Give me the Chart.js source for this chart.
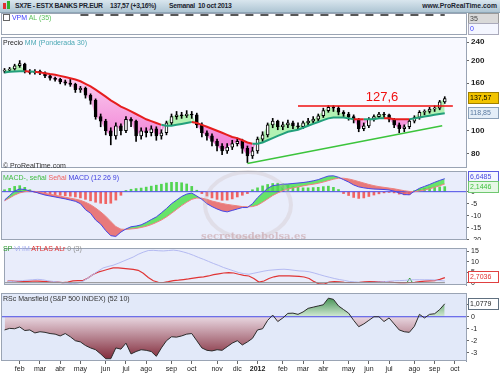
<!DOCTYPE html>
<html>
<head>
<meta charset="utf-8">
<script src="https://cdn.jsdelivr.net/npm/chart.js@4/dist/chart.umd.min.js"></script>
<style>
  body { margin: 0; width: 500px; height: 375px; overflow: hidden; position: relative; background: #fff; font-family: Arial, "Liberation Sans", sans-serif; }
  canvas { position: absolute; left: 0; }
  .lbl { position: absolute; left: 3px; font-size: 7px; line-height: 8px; white-space: nowrap; z-index: 2; }
  #bar { position: absolute; left: 0; top: 0; width: 500px; height: 12px; background: linear-gradient(#d9e6ee, #aec5d3); border-bottom: 1px solid #8ea6b6; font-size: 6.8px; font-weight: bold; line-height: 12px; color: #1c2430; z-index: 2; letter-spacing: -0.3px; }
  #bar span { position: absolute; top: 0; }
  .ico { position: absolute; top: 3px; width: 3px; height: 6px; }
</style>
</head>
<body>
<canvas id="c1" width="500" height="22" style="top:13px"></canvas>
<canvas id="c2" width="500" height="131" style="top:37px"></canvas>
<canvas id="c3" width="500" height="69" style="top:171px"></canvas>
<canvas id="c4" width="500" height="47" style="top:243px"></canvas>
<canvas id="c5" width="500" height="82" style="top:293px"></canvas>

<div id="bar">
  <div class="ico" style="left:3px;background:#e03030"></div>
  <div class="ico" style="left:7px;top:1px;height:8px;background:#30b030"></div>
  <span style="left:15px">SX7E - ESTX BANKS PR.EUR</span>
  <span style="left:110px">137,57 (+3,16%)</span>
  <span style="left:169px">Semanal&nbsp; 10 oct 2013</span>
  <span style="right:3px;letter-spacing:0">www.ProRealTime.com</span>
</div>
<div class="lbl" style="top:14px"><span style="display:inline-block;width:5px;height:5px;border:1px solid #666;vertical-align:-1px"></span> <span style="color:#3c3cff">VPM</span> <span style="color:#5cc05c">AL (35)</span></div>
<div class="lbl" style="top:39px"><span style="color:#222">Precio</span> <span style="color:#4aa8b4">MM (Ponderada 30)</span></div>
<div class="lbl" style="top:162px;color:#333">© ProRealTime.com</div>
<div class="lbl" style="top:174px"><span style="color:#3cbc3c">MACD-, señal</span> <span style="color:#f06060">Señal</span> <span style="color:#4040e0">MACD (12 26 9)</span></div>
<div class="lbl" style="top:245px"><span style="color:#2e9e2e">SP</span> <span style="color:#a8b0f0">VHM</span> <span style="color:#e03030">ATLAS ALr</span> <span style="color:#909090">0 (3)</span></div>
<div class="lbl" style="top:295px;color:#333">RSc Mansfield (S&amp;P 500 INDEX) (52 10)</div>
<div style="position:absolute;left:203px;top:170px;width:82px;height:62px;border:4px solid rgba(205,190,190,0.3);border-radius:50%;z-index:1"></div>
<div style="position:absolute;left:201px;top:230px;font:bold 10px 'DejaVu Serif',serif;color:rgba(200,160,165,0.6);z-index:1">secretosdebolsa.es</div>

<script>
// weekly price data (88 weeks)
const opens = [180,182,184,190,193,180,178,180,177,172,
  168,166,162,160,158,150,152,142,135,115,
  110,100,95,105,100,112,110,95,100,98,
  102,95,98,108,115,117,116,118,117,106,
  98,95,90,86,82,85,88,90,84,78,
  82,92,96,106,110,104,106,108,105,104,
  108,110,112,116,122,126,125,120,118,115,
  112,102,105,112,115,118,117,112,106,102,
  104,110,114,120,121,124,125,133];
const closes = [182,184,190,194,180,178,180,177,172,168,
  166,162,160,158,150,152,142,135,115,110,
  100,95,105,100,112,110,95,100,98,102,
  95,98,108,115,117,116,118,117,106,98,
  95,90,86,82,85,88,90,84,78,82,
  92,96,106,110,104,106,108,105,104,108,
  110,112,116,122,126,125,120,118,115,112,
  102,105,112,115,118,117,112,106,102,104,
  110,114,120,121,124,125,133,137.57];
const highs = [185,187,193,200,195,183,183,182,179,174,
  170,168,165,166,160,155,154,144,137,118,
  112,103,108,107,115,114,111,103,103,105,
  104,101,110,118,121,120,122,121,119,108,
  100,97,92,88,88,91,93,92,86,85,
  94,99,108,113,111,109,111,110,108,110,
  113,115,118,125,128,128,127,122,120,117,
  113,108,114,117,120,120,118,113,108,106,
  112,116,122,123,126,128,135,140];
const lows = [177,179,182,187,177,175,175,174,169,165,
  163,159,157,155,146,146,138,130,112,104,
  96,87,92,96,98,104,90,92,94,95,
  91,92,96,106,112,113,114,113,103,94,
  91,86,82,79,80,83,86,80,73,76,
  80,90,94,103,101,101,103,102,101,102,
  106,108,110,114,120,121,117,115,111,108,
  99,100,103,110,113,114,109,103,98,99,
  102,108,112,117,119,121,123,131];
// MM ponderada 30
const ma = [178,179,179.5,180,180,179.5,179,178,176.5,175,
  174,172,170,168,166,163,159,155,150,145,
  140,135,131,127,124,121,118,115,112,110,
  108,106,105,105,106,107,108,109,108,106,
  104,102,100,98,96,94,93,91,89,88,
  88,89,91,93,95,97,99,100,101,103,
  105,107,109,111,113,114,114,114,113,112,
  112,112,112,112,113,113,113,112,112,112,
  112,113,114,115,116,117,118,118.85];
const trendWeeks = [48, 86.5];
const trendValues = [72.3, 105];
const resistWeeks = [58, 88.6];
const resistLevel = 127.6;

// MACD (12 26 9)
const macd = [-3.5,-1.6,0.3,1.1,0.9,0.3,-0.1,-0.8,-1.4,-1.8,
  -2.2,-2.6,-3.0,-3.5,-4.0,-5.0,-7.5,-9.0,-11.8,-13.5,
  -16.2,-18.3,-18.6,-16.8,-15.5,-14.6,-14.3,-13.8,-12.8,-11.6,
  -10.5,-8.8,-7.0,-5.0,-3.5,-2.0,-1.0,-0.6,-1.8,-3.2,
  -5.0,-6.2,-7.2,-8.0,-8.4,-7.8,-7.2,-6.6,-6.6,-5.0,
  -2.5,-0.5,1.4,2.5,2.8,3.1,3.2,3.4,3.6,3.8,
  4.1,4.5,5.0,5.8,6.5,6.6,6.0,5.0,4.0,2.8,
  2.0,1.6,1.3,1.1,1.0,0.9,0.7,0.2,-0.5,-1.2,
  -1.3,0.2,1.4,2.2,3.0,3.9,4.7,5.4];
const signal = [-3.8,-2.6,-1.4,-0.5,0.0,0.2,0.1,-0.2,-0.7,-1.1,
  -1.5,-1.9,-2.3,-2.7,-3.1,-3.6,-4.4,-5.4,-6.8,-8.4,
  -10.2,-12.4,-14.5,-15.6,-15.7,-15.5,-15.3,-14.9,-14.4,-13.7,
  -12.8,-11.8,-10.5,-9.0,-7.4,-5.8,-4.4,-3.2,-2.6,-2.7,
  -3.2,-3.9,-4.4,-4.9,-5.3,-5.6,-5.9,-6.2,-6.3,-6.2,
  -5.6,-4.4,-3.0,-1.6,-0.5,0.4,1.1,1.6,2.0,2.4,
  2.8,3.1,3.5,4.0,4.6,5.2,5.6,5.6,5.3,4.8,
  4.2,3.6,3.0,2.5,2.1,1.8,1.5,1.2,0.8,0.4,
  0.1,0.0,0.3,0.7,1.2,1.8,2.5,3.2];
const hist = [0.8,1.4,2.2,2.5,1.8,0.8,-0.3,-0.8,-1.0,-1.2,
  -1.4,-1.5,-1.7,-1.9,-2.2,-2.6,-3.2,-3.8,-4.4,-4.8,
  -5.0,-4.8,-3.5,-1.5,0.5,1.0,1.3,1.5,1.9,2.3,
  2.7,3.1,3.6,3.9,3.9,3.7,3.2,2.2,0.6,-0.8,
  -1.8,-2.6,-3.2,-3.6,-3.5,-3.0,-2.2,-1.5,-0.8,0.8,
  1.6,2.4,3.0,3.4,3.5,3.2,2.6,2.0,1.8,1.6,
  1.6,1.7,1.8,2.1,2.3,1.8,0.9,-0.8,-1.6,-2.4,
  -2.8,-2.6,-2.0,-1.4,-0.9,-0.5,-0.3,-0.5,-1.0,-1.3,
  -1.2,0.4,1.0,1.4,1.6,1.8,2.0,2.1];

// SP VHM ATLAS ALr
const vhm = [0.5,0.6,0.8,1.0,1.2,1.4,1.6,1.4,0.9,0.6,
  0.3,0.0,-0.2,-0.5,-0.2,0.7,2.2,3.9,5.5,7.0,
  7.7,8.3,9.2,10.2,11.2,12.2,13.5,14.5,15.3,15.4,
  15.2,15.1,15.3,15.5,15.2,14.6,13.9,13.0,12.0,11.1,
  10.1,9.1,8.2,7.2,6.4,5.6,4.8,4.3,4.0,4.5,
  5.0,5.5,5.9,6.1,6.3,6.4,6.2,5.9,5.6,5.5,
  5.2,4.6,3.9,3.2,2.6,2.0,1.5,1.1,0.6,0.4,
  0.2,0.1,0.1,0.2,0.4,0.5,0.7,0.9,1.0,1.1,
  1.3,1.4,1.4,1.4,1.4,1.3,1.0,0.8];
const atlas = [0.75,0.7,0.6,0.5,0.6,0.7,0.75,0.6,0.5,0.4,
  0.3,0.0,0.3,0.9,1.0,1.0,2.2,3.9,5.0,5.7,
  6.4,7.0,7.0,6.8,6.6,6.3,5.9,4.5,2.5,0.9,
  0.2,0.1,0.5,1.0,1.2,1.5,1.8,2.2,2.5,2.8,
  3.2,3.8,4.2,4.6,4.8,4.6,4.0,3.5,3.2,2.0,
  0.3,0.8,2.0,2.8,3.2,3.3,3.2,3.1,3.0,2.7,
  2.0,0.5,-0.6,-0.7,0.3,0.5,0.4,0.2,0.1,0.1,
  0.2,0.4,0.5,0.5,0.5,0.5,0.4,0.1,0.0,0.0,
  0.1,0.2,0.5,0.75,0.9,1.0,1.6,2.4];
const spSignalWeek = 80;
const spSignalValue = 0.8;

// RSc Mansfield (S&P 500 INDEX) (52 10)
const rsc = [-1.1,-0.97,-1.0,-0.85,-1.15,-1.1,-1.35,-1.25,-1.3,-1.4,
  -1.45,-1.6,-1.4,-1.67,-2.0,-2.1,-2.4,-2.6,-2.75,-3.1,
  -3.5,-3.5,-2.6,-2.7,-2.2,-3.1,-2.9,-2.75,-2.8,-2.9,
  -3.3,-2.6,-2.0,-1.67,-1.7,-1.6,-1.45,-1.4,-2.0,-2.6,
  -2.8,-2.85,-2.75,-2.8,-2.5,-2.2,-2.0,-2.35,-2.1,-1.8,
  -1.1,-1.0,-0.3,0.14,-0.4,-0.1,0.28,0.3,0.2,0.4,
  0.7,0.8,0.9,1.0,1.55,1.45,0.9,0.6,0.3,-0.3,
  -0.83,-0.6,-0.3,0.0,0.0,-0.4,-0.1,-0.6,-1.1,-1.25,
  -1.3,-0.8,0.2,-0.1,0.2,0.25,0.6,1.08];

// x axis: month labels at week positions
const monthLabels = ['feb','mar','abr','may','jun','jul','ago','sep','oct','nov','dic','2012',
  'feb','mar','abr','may','jun','jul','ago','sep','oct'];
const monthWeeks = [3,7,11,15,20,24,28,33,37,42,46,50,55,59,63,68,72,76,81,85,89];

const priceTicks = [80,100,160,200,240];
const macdTicks = [0,-5,-10,-15,-20];
const spTicks = [0,5,10,15];
const rscTicks = [1,0,-1,-2,-3];

const X_MIN = -0.5, X_MAX = 91.2;
const pts = arr => arr.map((y, i) => ({x: i, y}));
const span = (xs, ys) => xs.map((x, i) => ({x, y: ys[i]}));

// panel background, border and value boxes on the right axis
const frame = {
  id: 'frame',
  beforeDraw(chart, args, o) {
    const {ctx, chartArea: a} = chart;
    ctx.save();
    ctx.fillStyle = o.bg || '#fff';
    ctx.fillRect(a.left, a.top, a.right - a.left, a.bottom - a.top);
    ctx.restore();
  },
  afterDraw(chart, args, o) {
    const {ctx, chartArea: a} = chart;
    ctx.save();
    ctx.strokeStyle = '#9aa4b4';
    ctx.lineWidth = 1;
    ctx.strokeRect(a.left - 0.5, a.top + 0.5, a.right - a.left + 1, a.bottom - a.top - 1);
    if (o.note) {
      ctx.fillStyle = o.note.color;
      ctx.font = o.note.font;
      ctx.textAlign = 'center';
      ctx.textBaseline = 'bottom';
      ctx.fillText(o.note.text, chart.scales.x.getPixelForValue(o.note.x), chart.scales.y.getPixelForValue(o.note.y) - 2);
    }
    (o.boxes || []).forEach(b => {
      let y = Math.round(chart.scales.y.getPixelForValue(b.v));
      y = Math.max(6, Math.min(chart.height - 6, y));
      ctx.fillStyle = b.bg;
      ctx.fillRect(468, y - 6, 31, 12);
      ctx.strokeStyle = b.line;
      ctx.strokeRect(468.5, y - 5.5, 30, 11);
      ctx.fillStyle = b.fg;
      ctx.font = '7px Arial';
      ctx.textAlign = 'left';
      ctx.textBaseline = 'middle';
      ctx.fillText(b.t, 470, y + 0.5);
    });
    ctx.restore();
  }
};

function yAxis(min, max, ticks, opts) {
  opts = opts || {};
  return {
    type: opts.log ? 'logarithmic' : 'linear',
    position: 'right', min, max,
    afterBuildTicks(s) { s.ticks = ticks.map(v => ({value: v})); },
    afterFit(s) { s.width = 34; s.paddingTop = 0; s.paddingBottom = 0; },
    grid: {drawOnChartArea: false, drawTicks: ticks.length > 0, tickLength: 3, color: '#666'},
    border: {display: true, color: '#8a94a4'},
    ticks: {display: ticks.length > 0, padding: 2, color: '#222',
      font: {family: 'Arial', size: opts.bold ? 8 : 7, weight: opts.bold ? 'bold' : 'normal'},
      callback: v => String(v)}
  };
}

function xAxis(show) {
  const ax = {type: 'linear', min: X_MIN, max: X_MAX, offset: false, display: show};
  if (show) {
    Object.assign(ax, {
      afterBuildTicks(s) { s.ticks = monthWeeks.map(v => ({value: v})); },
      afterFit(s) { s.height = 14; s.paddingLeft = 0; s.paddingRight = 0; },
      grid: {drawOnChartArea: false, drawTicks: true, tickLength: 3, color: '#666', offset: false},
      border: {display: false},
      ticks: {autoSkip: false, maxRotation: 0, padding: 1, color: '#222',
        font: c => ({family: 'Arial', size: 7, weight: monthLabels[c.index] === '2012' ? 'bold' : 'normal'}),
        callback: (v, i) => monthLabels[i]}
    });
  }
  return ax;
}

function options(yOpts, showX, frameOpts) {
  return {
    responsive: false, animation: false, devicePixelRatio: 1,
    layout: {padding: {left: 2, right: 0, top: 0, bottom: 0}},
    plugins: {legend: {display: false}, tooltip: {enabled: false},
      filler: {drawTime: 'beforeDatasetsDraw'}, frame: frameOpts},
    scales: {x: xAxis(showX), y: yOpts}
  };
}

// panel 1: VPM AL (35)
new Chart(document.getElementById('c1'), {
  type: 'line',
  data: {datasets: [{data: span([15, 87], [35, 35]), borderColor: '#222', borderWidth: 1.5,
    borderDash: [8, 7], pointRadius: 0}]},
  options: options(yAxis(-15, 40, []), false, {bg: '#fff', boxes: [
    {v: 29, t: '35', bg: '#d9d9d9', line: '#999', fg: '#444'},
    {v: 0, t: '0', bg: '#f4f6ff', line: '#aab', fg: '#3c3cff'}]}),
  plugins: [frame]
});

// panel 2: price candles + MM
const c2 = document.getElementById('c2').getContext('2d');
const pink = c2.createLinearGradient(0, 35, 0, 125);
pink.addColorStop(0, '#fbd2f0');
pink.addColorStop(1, '#ef6ccf');
new Chart(c2, {
  type: 'bar',
  data: {datasets: [
    {type: 'line', data: pts(closes), borderColor: 'rgba(0,0,0,0)', borderWidth: 0, pointRadius: 0,
      fill: {target: 1, above: 'rgba(160,240,160,0.8)', below: pink}, order: 9},
    {type: 'line', data: pts(ma), borderWidth: 2, pointRadius: 0, borderColor: '#e61e1e',
      segment: {borderColor: c => closes[c.p1DataIndex] < ma[c.p1DataIndex] ? '#e61e1e' : '#23a07c'}, order: 0},
    {data: closes.map((c, i) => ({x: i, y: [lows[i], highs[i]]})), backgroundColor: '#000',
      barThickness: 1, grouped: false, order: 4},
    {data: closes.map((c, i) => ({x: i, y: [opens[i], c]})),
      backgroundColor: closes.map((c, i) => c >= opens[i] ? '#fff' : '#000'),
      borderColor: '#000', borderWidth: 1, borderSkipped: false, barThickness: 3, grouped: false, order: 3},
    {type: 'line', data: span(trendWeeks, trendValues), borderColor: '#3cc43c', borderWidth: 1.5, pointRadius: 0, order: 1},
    {type: 'line', data: span(resistWeeks, [resistLevel, resistLevel]), borderColor: '#f01010', borderWidth: 1.5, pointRadius: 0, order: 1}
  ]},
  options: options(yAxis(69.2, 252.5, priceTicks, {log: true, bold: true}), false, {
    bg: '#f8f9ff',
    note: {text: '127,6', x: 74.6, y: resistLevel, color: '#f01010', font: '13px Arial'},
    boxes: [
      {v: 137.57, t: '137,57', bg: '#f2c400', line: '#a08000', fg: '#000'},
      {v: 118.85, t: '118,85', bg: '#e4eef8', line: '#8aa0b8', fg: '#5a7aa0'}]}),
  plugins: [frame]
});

// panel 3: MACD
new Chart(document.getElementById('c3'), {
  type: 'bar',
  data: {datasets: [
    {data: pts(hist), backgroundColor: hist.map(v => v >= 0 ? '#52d452' : '#f06464'),
      barThickness: 2, grouped: false, order: 3},
    {type: 'line', data: pts(signal), borderColor: '#f08080', borderWidth: 1, pointRadius: 0, order: 1},
    {type: 'line', data: pts(macd), borderColor: '#4646e6', borderWidth: 1, pointRadius: 0,
      fill: {target: 1, above: 'rgba(80,225,80,0.85)', below: 'rgba(232,100,100,0.85)'}, order: 0},
    {type: 'line', data: span([X_MIN, X_MAX], [0, 0]), borderColor: '#4a4ae6', borderWidth: 1, pointRadius: 0, order: 2}
  ]},
  options: options(yAxis(-20.1, 8.6, macdTicks), false, {bg: '#e9edfb', boxes: [
    {v: 6.6485, t: '6,6485', bg: '#f4f6ff', line: '#5a5ae0', fg: '#4a4ae0'},
    {v: 2.1446, t: '2,1446', bg: '#e6f8e6', line: '#70c870', fg: '#40c040'}]}),
  plugins: [frame]
});

// panel 4: SP VHM ATLAS ALr
new Chart(document.getElementById('c4'), {
  type: 'line',
  data: {datasets: [
    {data: span([X_MIN, 87], [0, 0]), borderColor: '#8c8c8c', borderWidth: 1, pointRadius: 0},
    {data: pts(vhm), borderColor: '#b4baf2', borderWidth: 1, pointRadius: 0},
    {data: pts(atlas), borderColor: '#e03434', borderWidth: 1.2, pointRadius: 0},
    {data: [{x: spSignalWeek, y: spSignalValue}], showLine: false, pointStyle: 'triangle',
      pointRadius: 3, borderColor: '#2ea02e', backgroundColor: 'rgba(0,0,0,0)', borderWidth: 1}
  ]},
  options: options(yAxis(-1.1, 16.5, spTicks), false, {bg: '#e9edfb', boxes: [
    {v: 2.7036, t: '2,7036', bg: '#fff', line: '#e04040', fg: '#e03030'}]}),
  plugins: [frame]
});

// panel 5: RSc Mansfield
const c5 = document.getElementById('c5').getContext('2d');
const maroon = c5.createLinearGradient(0, 24, 0, 68);
maroon.addColorStop(0, '#e8d6e0');
maroon.addColorStop(1, '#7c2232');
const green = c5.createLinearGradient(0, 24, 0, 4);
green.addColorStop(0, '#d6ecd8');
green.addColorStop(1, '#3e8e4e');
new Chart(c5, {
  type: 'line',
  data: {datasets: [
    {data: pts(rsc), borderColor: '#2c2c2c', borderWidth: 1, pointRadius: 0,
      fill: {target: {value: 0}, above: green, below: maroon}},
    {data: span([X_MIN, X_MAX], [0, 0]), borderColor: '#4a4ae6', borderWidth: 1, pointRadius: 0}
  ]},
  options: options(yAxis(-3.69, 1.98, rscTicks), true, {bg: '#e2e9f9', boxes: [
    {v: 1.0779, t: '1,0779', bg: '#fff', line: '#607080', fg: '#222'}]}),
  plugins: [frame]
});
</script>
</body>
</html>
